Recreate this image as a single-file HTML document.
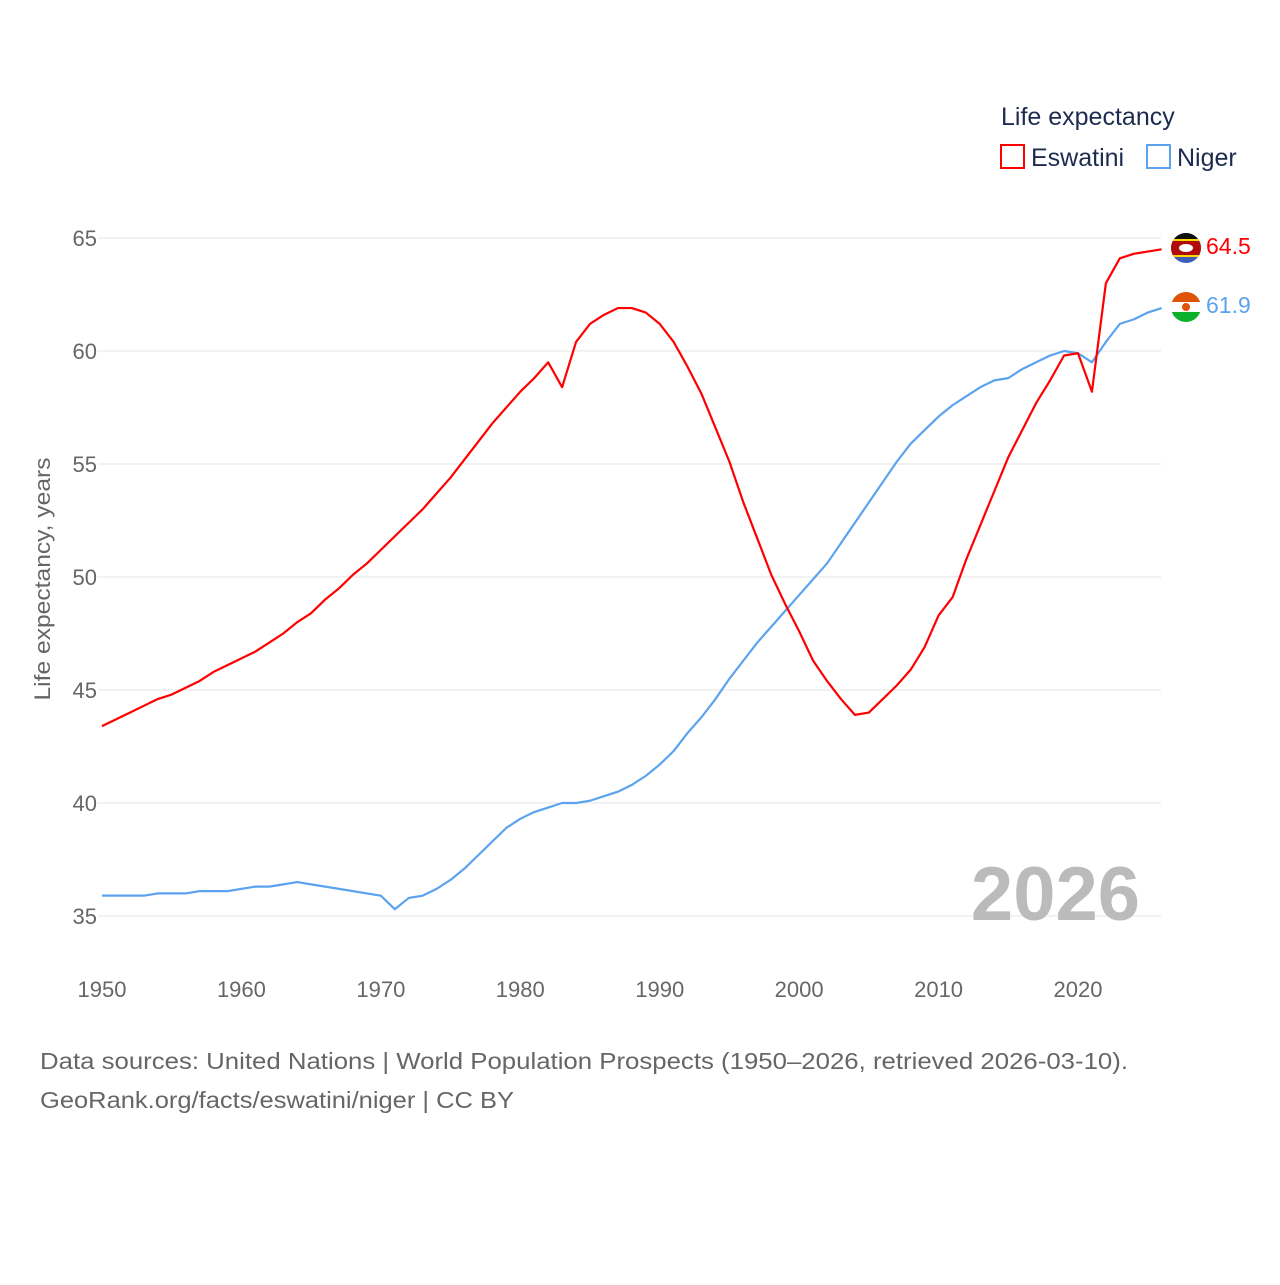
<!DOCTYPE html>
<html><head><meta charset="utf-8"><style>
body{margin:0;background:#fff;font-family:"Liberation Sans",sans-serif}
</style></head><body>
<svg id="chart" width="1280" height="1280" xmlns="http://www.w3.org/2000/svg">
<text x="1001" y="125" font-size="25" fill="#1d2b4f">Life expectancy</text>
<g><rect x="1001" y="145" width="23" height="23" fill="none" stroke="#f00" stroke-width="2"/><text x="1031" y="166" font-size="25" fill="#1d2b4f">Eswatini</text></g>
<g><rect x="1147" y="145" width="23" height="23" fill="none" stroke="#5ba3ee" stroke-width="2"/><text x="1177" y="166" font-size="25" fill="#1d2b4f">Niger</text></g>
<g id="grid"></g><g id="yt"></g><g id="xt"></g>
<text transform="translate(50,579) rotate(-90)" text-anchor="middle" font-size="22" fill="#666" textLength="243" lengthAdjust="spacingAndGlyphs">Life expectancy, years</text>
<text x="1140" y="920" text-anchor="end" font-size="76" font-weight="bold" fill="#bbb">2026</text>
<g id="series"></g>
<g><clipPath id="c1"><circle cx="1186" cy="248" r="15"/></clipPath><g clip-path="url(#c1)"><rect x="1171" y="233" width="30" height="30" fill="#3e5eb9"/><rect x="1171" y="239" width="30" height="18" fill="#ffd900"/><rect x="1171" y="241" width="30" height="14" fill="#b10c0c"/><rect x="1171" y="233" width="30" height="6" fill="#111"/><ellipse cx="1186" cy="248" rx="7" ry="4" fill="#fff"/></g></g>
<g><clipPath id="c2"><circle cx="1186" cy="307" r="15"/></clipPath><g clip-path="url(#c2)"><rect x="1171" y="292" width="30" height="10" fill="#e05206"/><rect x="1171" y="302" width="30" height="10" fill="#fff"/><rect x="1171" y="312" width="30" height="10" fill="#0db02b"/><circle cx="1186" cy="307" r="4" fill="#e05206"/></g></g>
<text id="lab1" x="1206" y="254" font-size="23" fill="#f00"></text>
<text id="lab2" x="1206" y="313" font-size="23" fill="#5ba3ee"></text>
<text x="40" y="1069" font-size="23" fill="#666" textLength="1088" lengthAdjust="spacingAndGlyphs">Data sources: United Nations | World Population Prospects (1950–2026, retrieved 2026-03-10).</text>
<text x="40" y="1108" font-size="23" fill="#666" textLength="474" lengthAdjust="spacingAndGlyphs">GeoRank.org/facts/eswatini/niger | CC BY</text>
</svg>
<script>
const startYear=1950;
const eswatini=[43.4,43.7,44.0,44.3,44.6,44.8,45.1,45.4,45.8,46.1,46.4,46.7,47.1,47.5,48.0,48.4,49.0,49.5,50.1,50.6,51.2,51.8,52.4,53.0,53.7,54.4,55.2,56.0,56.8,57.5,58.2,58.8,59.5,58.4,60.4,61.2,61.6,61.9,61.9,61.7,61.2,60.4,59.3,58.1,56.6,55.1,53.3,51.7,50.1,48.8,47.6,46.3,45.4,44.6,43.9,44.0,44.6,45.2,45.9,46.9,48.3,49.1,50.8,52.3,53.8,55.3,56.5,57.7,58.7,59.8,59.9,58.2,63.0,64.1,64.3,64.4,64.5];
const niger=[35.9,35.9,35.9,35.9,36.0,36.0,36.0,36.1,36.1,36.1,36.2,36.3,36.3,36.4,36.5,36.4,36.3,36.2,36.1,36.0,35.9,35.3,35.8,35.9,36.2,36.6,37.1,37.7,38.3,38.9,39.3,39.6,39.8,40.0,40.0,40.1,40.3,40.5,40.8,41.2,41.7,42.3,43.1,43.8,44.6,45.5,46.3,47.1,47.8,48.5,49.2,49.9,50.6,51.5,52.4,53.3,54.2,55.1,55.9,56.5,57.1,57.6,58.0,58.4,58.7,58.8,59.2,59.5,59.8,60.0,59.9,59.5,60.4,61.2,61.4,61.7,61.9];
const yTicks=[35,40,45,50,55,60,65];
const xTicks=[1950,1960,1970,1980,1990,2000,2010,2020];
const NS="http://www.w3.org/2000/svg";
const X=y=>102+(y-1950)*976/70;
const Y=v=>916-(v-35)*678/30;
function mk(t,a,p){const e=document.createElementNS(NS,t);for(const k in a)e.setAttribute(k,a[k]);document.getElementById(p).appendChild(e);return e;}
yTicks.forEach(v=>{
 const l=mk('line',{x1:98,x2:1161,y1:Y(v),y2:Y(v),stroke:'#e6e6e6','stroke-width':1},'grid');
 
 
 const t=mk('text',{x:97,y:Y(v)+8,'text-anchor':'end','font-size':22,fill:'#666'},'yt');
 t.textContent=v;
 
 
});
xTicks.forEach(v=>{
 const t=mk('text',{x:X(v),y:997,'text-anchor':'middle','font-size':22,fill:'#666'},'xt');
 t.textContent=v;
 
 
});
function line(d,c,n){
 const p=mk('polyline',{points:d.map((v,i)=>X(startYear+i)+','+Y(v)).join(' '),fill:'none',stroke:c,'stroke-width':2.2,'stroke-linejoin':'round'},'series');
 
 
}
line(niger,'#5ba3ee','niger-line');
line(eswatini,'#ff0000','eswatini-line');
document.getElementById('lab1').textContent=eswatini[eswatini.length-1].toFixed(1);
document.getElementById('lab2').textContent=niger[niger.length-1].toFixed(1);
</script>
</body></html>
